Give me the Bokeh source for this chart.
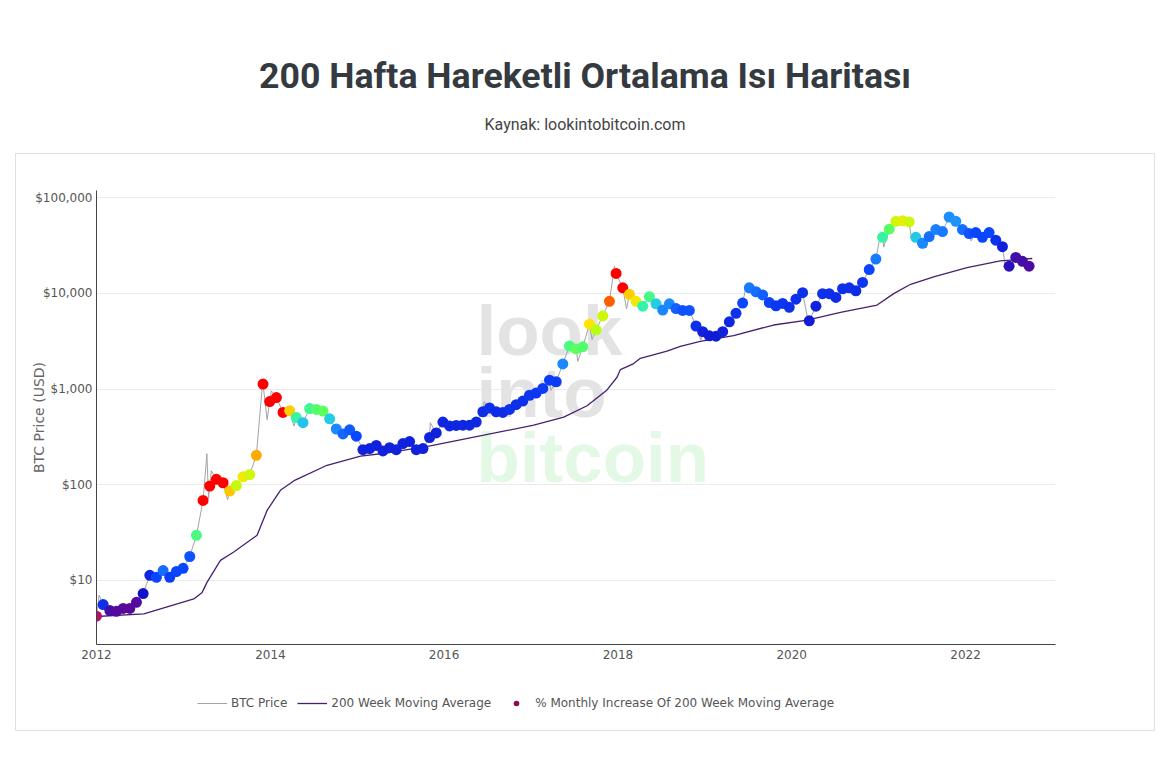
import pandas as pd
from datetime import datetime
from bokeh.plotting import figure
from bokeh.layouts import column
from bokeh.models import (Range1d, FixedTicker, NumeralTickFormatter, DatetimeTickFormatter,
                          Label, Legend, LegendItem, ColumnDataSource, LinearColorMapper, Div)
from bokeh.embed import file_html
from bokeh.resources import INLINE

# ---------------- data ----------------
title_text = "200 Hafta Hareketli Ortalama Isı Haritası"
subtitle_text = "Kaynak: lookintobitcoin.com"

# one point every 4 weeks starting 2012-01-01
dot_start = "2012-01-01"
dot_price = [4.23, 5.6, 4.85, 4.75, 5.1, 5.1, 5.9, 7.3, 11.3, 10.8,
             12.7, 10.8, 12.4, 13.4, 17.8, 29.6, 68.6, 97, 114, 105,
             86, 98, 121, 128, 203, 1130, 741, 815, 571, 593,
             504, 446, 626, 613, 590, 489, 383, 340, 375, 322,
             233, 239, 258, 226, 244, 233, 270, 283, 233, 239,
             312, 348, 452, 412, 417, 420, 420, 452, 580, 635,
             580, 571, 613, 688, 750, 863, 910, 1018, 1240, 1194,
             1834, 2820, 2630, 2770, 4770, 4170, 5830, 8270, 16200, 11440,
             9800, 8270, 7370, 9260, 7800, 6700, 7800, 6960, 6650, 6650,
             4570, 3980, 3610, 3580, 3980, 5050, 6200, 7930, 11440, 10420,
             9660, 8040, 7440, 7870, 7170, 8720, 10190, 5180, 7370, 9960,
             9960, 9080, 11200, 11440, 10670, 13040, 17780, 22900, 38600, 47000,
             56800, 57500, 56000, 38600, 33400, 39300, 46500, 44300, 63000, 56800,
             46500, 42300, 43300, 38600, 43300, 36100, 30800, 19300, 23800, 21700,
             19300]

# heat level of each dot (% monthly increase of the 200 WMA, colour scale 0..11)
dot_heat = [0, 2.6, 1.3, 1.1, 1.0, 1.0, 1.1, 2.0, 2.4, 3.0,
            3.6, 2.8, 3.0, 3.0, 3.2, 6.6, 11, 11, 11, 11,
            9.4, 8.2, 8.8, 8.3, 9.8, 11, 11, 11, 11, 9.3,
            6.2, 5.0, 6.4, 6.8, 7.0, 5.2, 4.0, 3.5, 3.3, 3.0,
            2.3, 2.3, 2.3, 2.3, 2.3, 2.3, 2.3, 2.3, 2.3, 2.3,
            2.3, 2.3, 2.4, 2.4, 2.4, 2.4, 2.4, 2.4, 2.5, 2.6,
            2.5, 2.5, 2.6, 2.6, 2.6, 2.7, 2.7, 2.8, 2.8, 2.8,
            4.0, 6.6, 7.0, 6.8, 9.0, 8.0, 8.3, 10.4, 11, 11,
            9.3, 8.8, 6.1, 6.5, 5.2, 4.0, 4.0, 3.4, 3.2, 3.2,
            2.6, 2.3, 2.2, 2.2, 2.3, 2.4, 2.6, 3.0, 3.8, 3.6,
            3.4, 2.9, 2.7, 2.7, 2.6, 2.6, 2.6, 2.2, 2.3, 2.6,
            2.6, 2.5, 2.6, 2.6, 2.5, 2.7, 3.0, 3.8, 6.2, 6.9,
            8.3, 8.6, 8.3, 5.1, 4.0, 3.6, 3.9, 3.8, 4.1, 4.2,
            3.6, 3.2, 3.0, 3.0, 3.0, 2.6, 2.3, 1.7, 1.3, 1.3,
            1.2]

# extra BTC price readings (spikes / dips between the dots)
extra_dates = ["2012-01-12", "2013-04-09", "2013-04-16", "2013-04-28", "2013-07-05",
               "2013-11-29", "2013-12-18", "2014-01-05", "2014-04-10", "2015-11-04",
               "2016-06-17", "2017-03-25", "2017-07-16", "2017-09-14", "2017-12-17",
               "2018-02-06", "2018-12-15", "2019-06-26", "2020-03-13", "2021-01-08",
               "2021-01-22", "2021-04-14", "2021-05-19", "2021-07-20", "2021-11-09",
               "2022-01-24", "2022-06-18"]
extra_price = [7.0, 211, 72, 140, 70,
               1150, 480, 960, 410, 445,
               740, 970, 1950, 3300, 19300,
               6900, 3250, 12900, 4800, 41000,
               30500, 63500, 36000, 30000, 67500,
               35500, 18500]

# 200 week moving average
wma_dates = ["2012-01-01", "2012-07-18", "2013-02-13", "2013-03-20", "2013-04-10",
             "2013-06-05", "2013-07-31", "2013-11-06", "2013-12-18", "2014-02-12",
             "2014-04-15", "2014-08-27", "2015-01-15", "2015-05-07", "2015-11-04",
             "2016-06-16", "2017-01-12", "2017-05-18", "2017-08-24", "2017-11-16",
             "2017-12-28", "2018-01-11", "2018-03-08", "2018-04-05", "2018-07-26",
             "2018-09-20", "2018-12-13", "2019-05-02", "2019-10-17", "2020-03-07",
             "2020-07-24", "2020-12-25", "2021-03-05", "2021-05-15", "2021-08-20",
             "2022-01-07", "2022-05-27", "2022-10-08"]
wma_value = [4.2, 4.48, 6.4, 7.5, 9.6,
             16.2, 19.8, 29.7, 54, 87.6,
             112, 160, 199, 215, 255,
             330, 420, 510, 670, 980,
             1330, 1600, 1850, 2100, 2500,
             2800, 3150, 3630, 4680, 5270,
             6330, 7570, 9960, 12470, 14900,
             18660, 21900, 23200]

y_ticks = [10, 100, 1000, 10000, 100000]
x_tick_years = [2012, 2014, 2016, 2018, 2020, 2022]

legend_labels = ["BTC Price", "200 Week Moving Average",
                 "% Monthly Increase Of 200 Week Moving Average"]
y_axis_title = "BTC Price (USD)"
watermark_words = ["look", "into", "bitcoin"]

# ---------------- colour scale ----------------
stops = ["#b3126b", "#5a0a9a", "#1212cc", "#0a46ff", "#1c88ff", "#22c4ec",
         "#2ef0b4", "#5cff5c", "#b8ff10", "#ffe400", "#ff9c00", "#ff0000"]


def _rgb(h):
    return tuple(int(h[i:i + 2], 16) for i in (1, 3, 5))


palette = []
NSTEP = 221
for k in range(NSTEP):
    t = k / (NSTEP - 1) * (len(stops) - 1)
    i = min(int(t), len(stops) - 2)
    f = t - i
    a, b = _rgb(stops[i]), _rgb(stops[i + 1])
    palette.append("#%02x%02x%02x" % tuple(round(a[j] + (b[j] - a[j]) * f) for j in range(3)))
mapper = LinearColorMapper(palette=palette, low=0, high=len(stops) - 1)

# ---------------- sources ----------------
dot_dates = pd.date_range(dot_start, periods=len(dot_price), freq="28D")
dots = ColumnDataSource(dict(date=dot_dates, price=dot_price, heat=dot_heat))

line_df = pd.concat([
    pd.DataFrame({"date": dot_dates, "price": dot_price}),
    pd.DataFrame({"date": pd.to_datetime(extra_dates), "price": extra_price}),
]).sort_values("date")
price_src = ColumnDataSource(dict(date=line_df["date"], price=line_df["price"]))
wma_src = ColumnDataSource(dict(date=pd.to_datetime(wma_dates), price=wma_value))

# ---------------- heading ----------------
head_html = (
    '<div style="position:relative;width:1170px;height:153px;">'
    '<div style="position:absolute;left:0;top:54px;width:1170px;text-align:center;'
    'font-family:Roboto;font-weight:bold;font-size:35.7px;line-height:44px;color:#343a40;">'
    f'{title_text}</div>'
    '<div style="position:absolute;left:0;top:114px;width:1170px;text-align:center;'
    'font-family:Roboto;font-size:16px;line-height:22px;color:#444444;">'
    f'{subtitle_text}</div></div>'
)
head = Div(text=head_html, width=1170, height=153, margin=0)

# ---------------- main chart ----------------
W = 1138
H1, H2 = 530, 46
FL, FR, FT = 80, 99, 36
FB = 490
p = figure(width=W, height=H1, x_axis_type="datetime", y_axis_type="log",
           x_range=Range1d(datetime(2012, 1, 1), datetime(2023, 1, 14)),
           y_range=Range1d(2.14, 119200),
           output_backend="svg", toolbar_location=None,
           min_border_left=FL, min_border_right=FR, min_border_top=FT,
           min_border_bottom=H1 - FB, margin=0)
p.outline_line_color = None
p.background_fill_color = "white"
p.border_fill_color = "white"
p.xgrid.visible = False
p.ygrid.grid_line_color = "#ebebeb"
p.ygrid.grid_line_width = 1

p.yaxis.ticker = FixedTicker(ticks=y_ticks)
p.yaxis.formatter = NumeralTickFormatter(format="$0,0")
p.xaxis.ticker = FixedTicker(ticks=[pd.Timestamp(f"{y}-01-01").value / 1e6 for y in x_tick_years])
p.xaxis.formatter = DatetimeTickFormatter(years="%Y", months="%Y", days="%Y")
for ax in (p.xaxis, p.yaxis):
    ax.axis_line_color = "#444444"
    ax.axis_line_width = 1
    ax.major_tick_line_color = None
    ax.minor_tick_line_color = None
    ax.major_tick_out = 0
    ax.major_tick_in = 0
    ax.major_label_text_font = "DejaVu Sans"
    ax.major_label_text_font_size = "12px"
    ax.major_label_text_color = "#555555"
p.yaxis.major_label_standoff = 4
p.xaxis.major_label_standoff = 5
p.yaxis.axis_label = y_axis_title
p.yaxis.axis_label_text_font = "DejaVu Sans"
p.yaxis.axis_label_text_font_size = "14px"
p.yaxis.axis_label_text_font_style = "normal"
p.yaxis.axis_label_text_color = "#666666"
p.yaxis.axis_label_standoff = -15

# watermark
for txt, yy, col in zip(watermark_words, (314, 252, 187), ("#e3e3e3", "#e3e3e3", "#e4f8e6")):
    p.add_layout(Label(x=380, y=yy, x_units="screen", y_units="screen", text=txt,
                       text_font="Liberation Sans", text_font_style="bold",
                       text_font_size="71px", text_color=col,
                       text_baseline="alphabetic", text_align="left", level="underlay"))

# series
price_r = p.line("date", "price", source=price_src, line_color="#a3a3a3", line_width=1)
wma_r = p.line("date", "price", source=wma_src, line_color="#46206e", line_width=1.3)
p.scatter("date", "price", source=dots, size=11, line_color=None,
          fill_color={"field": "heat", "transform": mapper})

# ---------------- legend strip ----------------
leg = figure(width=W, height=H2, x_range=(0, 1), y_range=(0, 1),
             output_backend="svg", toolbar_location=None,
             x_axis_location=None, y_axis_location=None,
             min_border_left=FL, min_border_right=FR, min_border_top=0, min_border_bottom=0,
             margin=0)
leg.grid.visible = False
leg.outline_line_color = None
# legend keys: renderers whose (hidden) points lie outside the strip's ranges
hidden = dict(x=[-3, -2], y=[-3, -2])
k1 = leg.line(x=hidden["x"], y=hidden["y"], line_color="#a3a3a3", line_width=1)
k2 = leg.line(x=hidden["x"], y=hidden["y"], line_color="#46206e", line_width=1.3)
k3 = leg.scatter(x=hidden["x"], y=hidden["y"], size=9, fill_color="#8b0a50", line_color=None)
legend = Legend(items=[LegendItem(label=legend_labels[0], renderers=[k1]),
                       LegendItem(label=legend_labels[1], renderers=[k2]),
                       LegendItem(label=legend_labels[2], renderers=[k3])],
                location=(101, 20), orientation="horizontal",
                glyph_width=30, glyph_height=14, label_height=14, label_standoff=4,
                spacing=10, padding=0, margin=0, border_line_color=None,
                background_fill_alpha=0, label_text_font="DejaVu Sans",
                label_text_font_size="12px", label_text_color="#555555")
leg.add_layout(legend)

box = column(p, leg, margin=(0, 0, 0, 15), spacing=0,
             styles={"border": "1px solid #e0e0e0"})
layout = column(head, box, spacing=0)
open("out.html", "w").write(file_html(layout, INLINE))
